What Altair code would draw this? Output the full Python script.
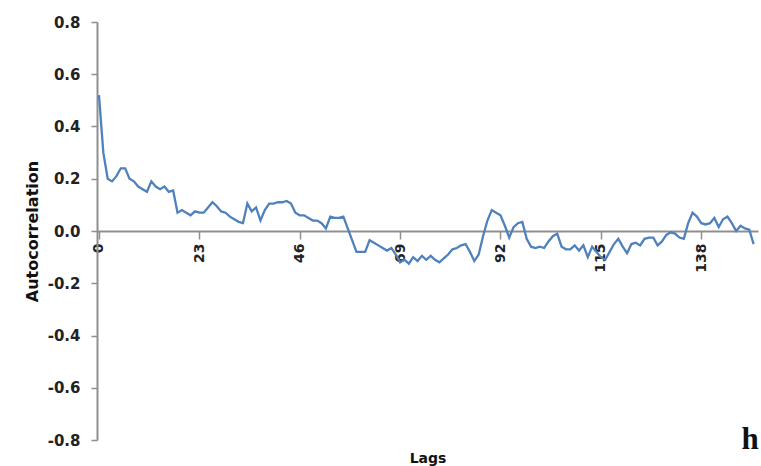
import altair as alt
import pandas as pd

# Autocorrelation coefficient for each lag 0..150
lags = list(range(151))
acf = [
    0.52, 0.30, 0.20, 0.19, 0.21, 0.24, 0.24, 0.20, 0.19, 0.17,
    0.16, 0.15, 0.19, 0.17, 0.16, 0.17, 0.15, 0.155, 0.07, 0.08,
    0.07, 0.06, 0.075, 0.07, 0.07, 0.09, 0.11, 0.095, 0.075, 0.07,
    0.055, 0.045, 0.035, 0.03, 0.105, 0.075, 0.09, 0.04, 0.08, 0.105,
    0.105, 0.11, 0.11, 0.115, 0.105, 0.07, 0.06, 0.06, 0.05, 0.04,
    0.04, 0.03, 0.01, 0.055, 0.05, 0.05, 0.055, 0.01, -0.035, -0.08,
    -0.08, -0.08, -0.035, -0.045, -0.055, -0.065, -0.075, -0.065, -0.09, -0.12,
    -0.11, -0.125, -0.10, -0.115, -0.095, -0.11, -0.095, -0.11, -0.12, -0.105,
    -0.09, -0.07, -0.065, -0.055, -0.05, -0.08, -0.115, -0.09, -0.02, 0.04,
    0.08, 0.07, 0.06, 0.02, -0.025, 0.015, 0.03, 0.035, -0.03, -0.06,
    -0.065, -0.06, -0.065, -0.04, -0.02, -0.01, -0.06, -0.07, -0.07, -0.055,
    -0.075, -0.055, -0.10, -0.06, -0.08, -0.10, -0.11, -0.08, -0.05, -0.03,
    -0.06, -0.085, -0.05, -0.045, -0.055, -0.03, -0.025, -0.025, -0.055, -0.04,
    -0.015, -0.005, -0.01, -0.025, -0.03, 0.03, 0.07, 0.055, 0.03, 0.025,
    0.03, 0.05, 0.015, 0.045, 0.055, 0.03, 0.0, 0.02, 0.01, 0.005,
    -0.05,
]
x_ticks = [0, 23, 46, 69, 92, 115, 138]
y_ticks = [-0.8, -0.6, -0.4, -0.2, 0.0, 0.2, 0.4, 0.6, 0.8]
panel_label = ["h"]

df = pd.DataFrame({"lag": lags, "acf": acf})

W, H = 661, 418
FONT = "DejaVu Sans"
AXIS_GRAY = "#8f8f8f"

x_scale = alt.Scale(domain=[-0.45, 151], nice=False, zero=False)
y_scale = alt.Scale(domain=[-0.8, 0.8], nice=False)

# x axis drawn through y = 0 (offset pulls it up from the bottom edge)
x_axis = alt.Axis(
    values=x_ticks,
    title="Lags",
    offset=-(H / 2),
    labelAngle=270,
    labelFont=FONT,
    labelFontSize=14,
    labelFontWeight="bold",
    labelColor="#222222",
    labelPadding=4,
    tickSize=8,
    tickColor=AXIS_GRAY,
    tickWidth=1.5,
    domainColor=AXIS_GRAY,
    domainWidth=2,
    grid=False,
    titleFont=FONT,
    titleFontSize=14,
    titleFontWeight="bold",
    titleColor="#111111",
    titleY=220,
    titleBaseline="top",
)

y_axis = alt.Axis(
    values=y_ticks,
    title="Autocorrelation",
    labelExpr="replace(format(datum.value, '.1f'), '\u2212', '-')",
    labelFont=FONT,
    labelFontSize=15,
    labelFontWeight="bold",
    labelColor="#222222",
    labelPadding=11,
    tickSize=6,
    tickColor=AXIS_GRAY,
    tickWidth=1.5,
    domainColor=AXIS_GRAY,
    domainWidth=2,
    grid=False,
    titleFont=FONT,
    titleFontSize=16,
    titleFontWeight="bold",
    titleColor="#111111",
    titlePadding=7,
)

line = alt.Chart(df).mark_line(color="#4f81bd", strokeWidth=2.3).encode(
    x=alt.X("lag:Q", scale=x_scale, axis=x_axis),
    y=alt.Y("acf:Q", scale=y_scale, axis=y_axis),
)

label = alt.Chart(pd.DataFrame({"t": panel_label})).mark_text(
    font="Liberation Serif",
    fontSize=31,
    fontWeight="bold",
    color="#111111",
    align="center",
    baseline="alphabetic",
).encode(
    text="t:N",
    x=alt.value(653),
    y=alt.value(427),
)

chart = (
    alt.layer(line, label)
    .properties(
        width=W,
        height=H,
        autosize=alt.AutoSizeParams(type="none"),
        padding={"left": 97, "top": 22, "right": 3, "bottom": 26},
        background="white",
    )
    .configure_view(stroke=None)
)

chart.save("out.html", embed_options={"renderer": "svg", "actions": False})
